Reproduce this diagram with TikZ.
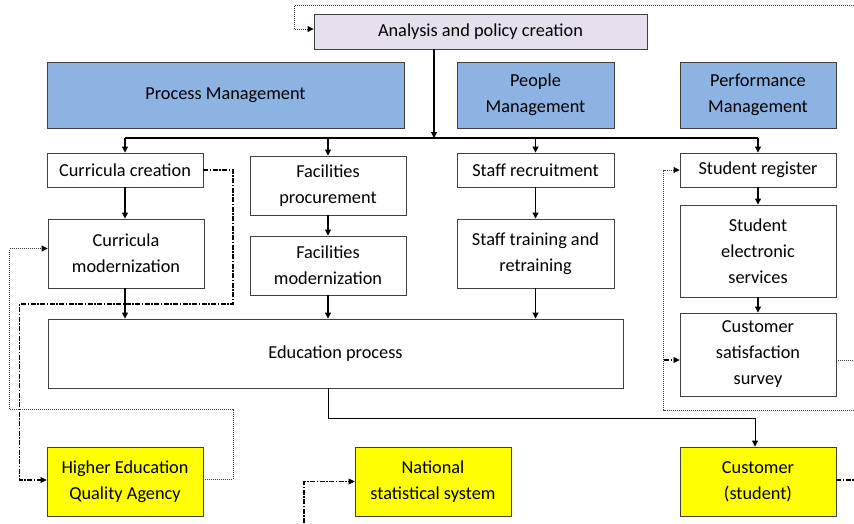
\documentclass[tikz,border=0pt]{standalone}
\usepackage{fontspec}
\setmainfont{Carlito}
\usetikzlibrary{arrows.meta,positioning}
\definecolor{bluefill}{HTML}{8DB3E2}
\definecolor{lavfill}{HTML}{E5E0EC}
\definecolor{yelfill}{HTML}{FFFF00}
\definecolor{edgegray}{HTML}{404040}
\tikzset{
  box/.style={draw=edgegray, line width=0.9pt, fill=white, inner sep=0pt, align=center,
    font=\fontsize{18.3}{26}\selectfont},
  mgmt/.style={box, fill=bluefill},
  lav/.style={box, fill=lavfill},
  ext/.style={box, fill=yelfill},
  arr/.style={line width=1.1pt, -{Triangle[length=6pt,width=6pt]}},
  plainline/.style={line width=1.1pt},
  dotline/.style={line width=0.9pt, black!75, dash pattern=on 1pt off 1pt},
  dotarr/.style={dotline, -{Triangle[length=6pt,width=6pt,fill=black,color=black]}},
  dashdotline/.style={line width=1.3pt, black, dash pattern=on 5pt off 1.5pt on 1.5pt off 1.5pt},
  dashdotarr/.style={dashdotline, -{Triangle[length=6pt,width=6pt,line width=0.5pt]}},
}
\begin{document}
\begin{tikzpicture}[x=1pt,y=-1pt]
\useasboundingbox (0,0) rectangle (854,523);
% boxes
\node[lav, minimum width=333pt, minimum height=35pt] (ana) at (480.5,31.5) {Analysis and policy creation};
\node[mgmt, minimum width=357pt, minimum height=66pt] (pm) at (225.5,95) {Process Management};
\node[mgmt, minimum width=157pt, minimum height=66pt] (peo) at (535.5,95) {People\\Management};
\node[mgmt, minimum width=156pt, minimum height=66pt] (perf) at (758,95) {Performance\\Management};
\node[box, minimum width=156pt, minimum height=34pt] (cc) at (125,170) {Curricula creation};
\node[box, minimum width=156pt, minimum height=69pt] (cm) at (126,253.5) {Curricula\\modernization};
\node[box, minimum width=156pt, minimum height=59pt] (fp) at (328,185.5) {Facilities\\procurement};
\node[box, minimum width=156pt, minimum height=59pt] (fm) at (328,265.5) {Facilities\\modernization};
\node[box, minimum width=157pt, minimum height=34pt] (sr) at (535.5,170) {Staff recruitment};
\node[box, minimum width=157pt, minimum height=69pt] (st) at (535.5,253.5) {Staff training and\\retraining};
\node[box, minimum width=575pt, minimum height=69pt] (ep) at (335.5,353.5) {Education process};
\node[box, minimum width=156pt, minimum height=34pt] (reg) at (758,170) {Student register};
\node[box, minimum width=156pt, minimum height=92pt] (ses) at (758,251) {Student\\electronic\\services};
\node[box, minimum width=156pt, minimum height=83pt] (css) at (758,354.5) {Customer\\satisfaction\\survey};
\node[ext, minimum width=156pt, minimum height=69pt] (heqa) at (125,481.5) {Higher Education\\Quality Agency};
\node[ext, minimum width=156pt, minimum height=69pt] (nss) at (433,481.5) {National\\statistical system};
\node[ext, minimum width=156pt, minimum height=69pt] (cust) at (758,481.5) {Customer\\(student)};
% coordinates
\coordinate (bus) at (434,138);
\coordinate (topR) at (854,5);
\coordinate (loopR) at (854,410);
\coordinate (cssR) at (854,360);
\coordinate (custR) at (854,480);
\coordinate (cssin) at (664,360);
\coordinate (nssin) at (304,523);
% main flow
\draw[arr] (bus |- ana.south) -- (bus);
\draw[plainline] (cc.north |- bus) -- (reg.north |- bus);
\draw[arr] (cc.north |- bus) -- (cc.north);
\draw[arr] (fp.north |- bus) -- (fp.north);
\draw[arr] (sr.north |- bus) -- (sr.north);
\draw[arr] (reg.north |- bus) -- (reg.north);
\draw[arr] (cc.south) -- (cc.south |- cm.north);
\draw[arr] (cc.south |- cm.south) -- (cc.south |- ep.north);
\draw[arr] (fp.south) -- (fm.north);
\draw[arr] (fm.south) -- (fm.south |- ep.north);
\draw[arr] (sr.south) -- (st.north);
\draw[arr] (st.south) -- (st.south |- ep.north);
\draw[arr] (reg.south) -- (ses.north);
\draw[arr] (ses.south) -- (css.north);
\draw[arr, line width=0.9pt] (fm.south |- ep.south) -- ++(0,30) -| ([xshift=-3pt]cust.north);
% dash-dot connectors
\draw[dashdotarr] (cc.east) -| (233,304) -| ([xshift=-27pt,yshift=1.5pt]heqa.west) -- ([yshift=1.5pt]heqa.west);
\draw[dashdotarr] (nssin) |- (nss.west);
\draw[dashdotarr] (cssin) -- ([yshift=-5.5pt]css.west);
\draw[dashdotline] ([yshift=1.5pt]cust.east) -- (custR);
% dotted connectors
\draw[dotarr] ([yshift=2pt]heqa.east) -| (233,409) -| ([xshift=-38pt,yshift=5pt]cm.west) -- ([yshift=5pt]cm.west);
\draw[dotarr] (topR) -| ([xshift=-19pt,yshift=2.5pt]ana.west) -- ([yshift=2.5pt]ana.west);
\draw[dotline] ([yshift=-5.5pt]css.east) -- (cssR);
\draw[dotarr] (loopR) -| ([xshift=-16pt]reg.west) -- (reg.west);
\end{tikzpicture}
\end{document}
